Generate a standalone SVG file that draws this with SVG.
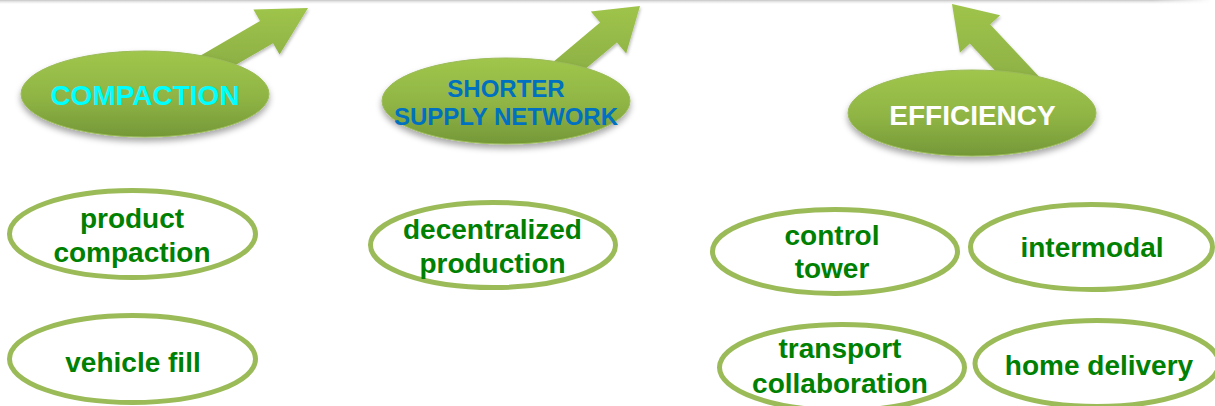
<svg xmlns="http://www.w3.org/2000/svg" width="1215" height="406" viewBox="0 0 1215 406">
  <defs>
    <linearGradient id="topBand" x1="0" y1="0" x2="0" y2="1">
      <stop offset="0" stop-color="#c4c4c4"/>
      <stop offset="1" stop-color="#ffffff" stop-opacity="0"/>
    </linearGradient>
    <linearGradient id="topBandFade" x1="0" y1="0" x2="1" y2="0">
      <stop offset="0.95" stop-color="#fff" stop-opacity="1"/>
      <stop offset="1" stop-color="#fff" stop-opacity="0"/>
    </linearGradient>
    <mask id="bandMask">
      <rect x="0" y="0" width="1212" height="6" fill="url(#topBandFade)"/>
    </mask>
    <linearGradient id="bubbleFill" x1="0" y1="0" x2="0" y2="1">
      <stop offset="0" stop-color="#a0c64c"/>
      <stop offset="0.55" stop-color="#8fb444"/>
      <stop offset="1" stop-color="#759838"/>
    </linearGradient>
    <linearGradient id="arrowFill" x1="0" y1="0" x2="0" y2="1">
      <stop offset="0" stop-color="#9fc44b"/>
      <stop offset="1" stop-color="#86a842"/>
    </linearGradient>
    <filter id="shadow" x="-20%" y="-30%" width="140%" height="170%">
      <feDropShadow dx="0" dy="4" stdDeviation="3" flood-color="#000" flood-opacity="0.35"/>
    </filter>
    <filter id="arrowShadow" x="-20%" y="-20%" width="140%" height="150%">
      <feDropShadow dx="1" dy="2" stdDeviation="1.5" flood-color="#000" flood-opacity="0.25"/>
    </filter>
  </defs>
  <style>
    .bubble { fill: url(#bubbleFill); stroke: #9bbb59; stroke-width: 1; filter: url(#shadow); }
    .arrow { fill: url(#arrowFill); filter: url(#arrowShadow); }
    .head { font-family: "Liberation Sans", Arial, sans-serif; font-weight: bold; text-anchor: middle; }
    .item { fill: #ffffff; stroke: #9bbb59; stroke-width: 5; }
    .itemText { font-family: "Liberation Sans", Arial, sans-serif; font-weight: bold; font-size: 28px; fill: #008000; text-anchor: middle; }
  </style>

  <rect width="1215" height="406" fill="#ffffff"/>
  <!-- thin grey rule along the top edge -->
  <rect x="0" y="0" width="1212" height="5" fill="url(#topBand)" mask="url(#bandMask)"/>

  <!-- arrows pointing out of the category bubbles -->
  <g id="connectors">
    <polygon class="arrow" points="182.2,66.2 260,20.9 253.4,9.6 308,8 279.6,54.6 273,43.3 195.2,88.6"/>
    <polygon class="arrow" points="531.2,80.5 600.1,22.6 590.8,11.5 640,6 626.2,53.5 616.9,42.4 548,100.3"/>
    <polygon class="arrow" points="1058.5,97.6 990.2,24.4 1000.1,15.2 952,4 959.9,52.8 969.8,43.6 1038.1,116.8"/>
  </g>

  <g id="compaction">
    <ellipse class="bubble" cx="145" cy="94" rx="124" ry="43"/>
    <text class="head" x="145" y="105" font-size="28" fill="#00ffff">COMPACTION</text>
  </g>

  <g id="shorter-supply-network">
    <ellipse class="bubble" cx="506" cy="101" rx="124" ry="43"/>
    <text class="head" x="506" y="97" font-size="24" fill="#0070c0">SHORTER</text>
    <text class="head" x="506" y="125" font-size="24" fill="#0070c0">SUPPLY NETWORK</text>
  </g>

  <g id="efficiency">
    <ellipse class="bubble" cx="972" cy="113" rx="124" ry="43"/>
    <text class="head" x="972.5" y="125" font-size="28" fill="#ffffff">EFFICIENCY</text>
  </g>

  <g id="product-compaction">
    <ellipse class="item" cx="132.5" cy="234" rx="123" ry="43.5"/>
    <text class="itemText" x="132" y="228">product</text>
    <text class="itemText" x="132" y="262">compaction</text>
  </g>

  <g id="vehicle-fill">
    <ellipse class="item" cx="132.5" cy="359" rx="123" ry="43.5"/>
    <text class="itemText" x="133" y="372">vehicle fill</text>
  </g>

  <g id="decentralized-production">
    <ellipse class="item" cx="493" cy="245" rx="122.5" ry="42.5"/>
    <text class="itemText" x="492.5" y="239">decentralized</text>
    <text class="itemText" x="492.5" y="273">production</text>
  </g>

  <g id="control-tower">
    <ellipse class="item" cx="835" cy="251.5" rx="122.5" ry="42"/>
    <text class="itemText" x="832" y="245">control</text>
    <text class="itemText" x="832" y="278">tower</text>
  </g>

  <g id="intermodal">
    <ellipse class="item" cx="1091.5" cy="247" rx="121" ry="42.5"/>
    <text class="itemText" x="1092" y="257">intermodal</text>
  </g>

  <g id="transport-collaboration">
    <ellipse class="item" cx="842" cy="367.5" rx="122.5" ry="43"/>
    <text class="itemText" x="840" y="358">transport</text>
    <text class="itemText" x="840" y="393">collaboration</text>
  </g>

  <g id="home-delivery">
    <ellipse class="item" cx="1097" cy="363.5" rx="122" ry="43"/>
    <text class="itemText" x="1099" y="375">home delivery</text>
  </g>
</svg>
